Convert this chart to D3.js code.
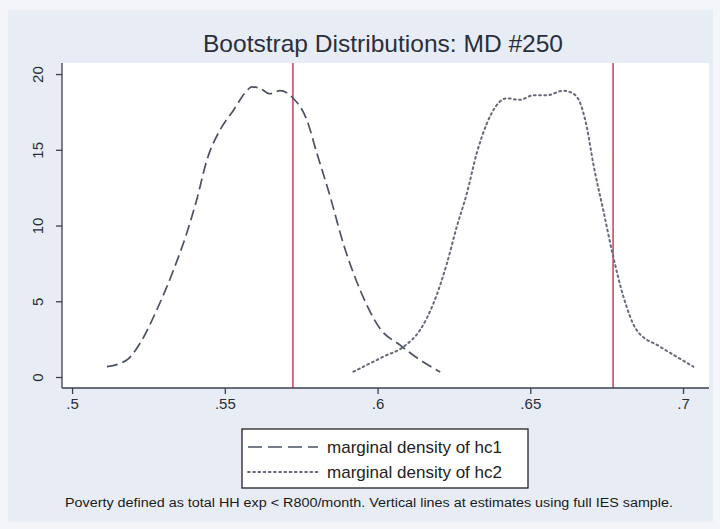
<!DOCTYPE html>
<html><head><meta charset="utf-8">
<script src="https://cdn.jsdelivr.net/npm/d3@7"></script>
<style>
html,body{margin:0;padding:0;background:#f3f5f8;}
svg{display:block;font-family:"Liberation Sans",Arial,sans-serif;}
</style></head>
<body>
<svg id="c" width="720" height="529"></svg>
<script>
const title = "Bootstrap Distributions: MD #250";
const note = "Poverty defined as total HH exp < R800/month. Vertical lines at estimates using full IES sample.";
const seriesNames = ["marginal density of hc1", "marginal density of hc2"];
const xTicks = [0.5, 0.55, 0.6, 0.65, 0.7];
const xTickLabels = [".5", ".55", ".6", ".65", ".7"];
const yTicks = [0, 5, 10, 15, 20];
const estimates = [0.5723, 0.6771];
const hc1X = [0.5114,0.5179,0.5223,0.5277,0.5332,0.5375,0.5408,0.5441,0.5484,0.5528,0.5572,0.5588,0.5615,0.5648,0.5681,0.5724,0.5768,0.5801,0.5845,0.5888,0.5943,0.6008,0.6074,0.6116,0.6205];
const hc1Y = [0.68,1.12,2.24,4.42,7.06,9.48,11.7,14.3,16.3,17.6,18.9,19.16,19.05,18.7,18.9,18.4,17.0,14.8,11.9,8.8,5.74,3.2,2.1,1.45,0.33];
const hc2X = [0.5921,0.6019,0.6085,0.6139,0.6183,0.6227,0.6259,0.6292,0.6325,0.6357,0.6390,0.6423,0.6466,0.6510,0.6554,0.6608,0.6641,0.6663,0.6685,0.6706,0.6739,0.6772,0.6805,0.6848,0.6925,0.6979,0.7034];
const hc2Y = [0.35,1.34,2.0,3.1,4.86,7.5,9.9,12.1,14.8,16.7,17.95,18.4,18.3,18.6,18.6,18.9,18.7,18.1,16.5,14.1,11.0,7.9,5.3,3.1,2.0,1.34,0.68];

const svg = d3.select("#c");
svg.append("rect").attr("x",8).attr("y",10).attr("width",705).attr("height",512).attr("fill","#e8edf5");

const L = 62, R = 709, T = 63, B = 388;
const x = d3.scaleLinear().domain([0.4967, 0.7085]).range([L, R]);
const y = d3.scaleLinear().domain([-0.726, 20.73]).range([B, T]);

svg.append("rect").attr("x",L).attr("y",T).attr("width",R-L).attr("height",B-T).attr("fill","#ffffff");

svg.selectAll("line.est").data(estimates).enter().append("line")
  .attr("x1",d=>x(d)).attr("x2",d=>x(d)).attr("y1",T).attr("y2",B)
  .attr("stroke","#c8304e").attr("stroke-width",1.4);

const line = d3.line().x(d=>x(d[0])).y(d=>y(d[1])).curve(d3.curveMonotoneX);
const d1 = hc1X.map((v,i)=>[v,hc1Y[i]]);
const d2 = hc2X.map((v,i)=>[v,hc2Y[i]]);
svg.append("path").attr("d",line(d1)).attr("fill","none").attr("stroke","#4b5263")
  .attr("stroke-width",1.7).attr("stroke-dasharray","11,5");
svg.append("path").attr("d",line(d2)).attr("fill","none").attr("stroke","#666a78")
  .attr("stroke-width",2).attr("stroke-dasharray","1.8,3.4").attr("stroke-linecap","round");

const gx = svg.append("g").attr("transform",`translate(0,${B})`)
  .call(d3.axisBottom(x).tickValues(xTicks).tickFormat((d,i)=>xTickLabels[i]).tickSize(6).tickPadding(4));
gx.select(".domain").attr("d",`M${L},0H${R}`);
const gy = svg.append("g").attr("transform",`translate(${L},0)`)
  .call(d3.axisLeft(y).tickValues(yTicks).tickSize(6).tickPadding(0));
gy.select(".domain").attr("d",`M0,${T}V${B}`);
[gx,gy].forEach(g=>{
  g.selectAll(".domain").attr("stroke","#3a3f4a").attr("stroke-width",1.3);
  g.selectAll(".tick line").attr("stroke","#3a3f4a").attr("stroke-width",1.3);
  g.selectAll("text").attr("fill","#2a2d35").style("font-size","15px").style("font-family","'Liberation Sans',Arial,sans-serif");
});
gy.selectAll(".tick text").attr("text-anchor","middle").attr("dy",null)
  .attr("transform","translate(-25,0) rotate(-90)").attr("x",0).attr("y",0).attr("dominant-baseline","central");

svg.append("text").attr("x",383).attr("y",52).attr("text-anchor","middle")
  .attr("fill","#2a2f3d").style("font-size","24px")
  .attr("textLength",360).attr("lengthAdjust","spacingAndGlyphs").text(title);

const lg = svg.append("g");
lg.append("rect").attr("x",242).attr("y",429).attr("width",286).attr("height",59)
  .attr("fill","#ffffff").attr("stroke","#222").attr("stroke-width",1.3);
const rows = [447, 472];
lg.append("line").attr("x1",248).attr("x2",318).attr("y1",rows[0]).attr("y2",rows[0])
  .attr("stroke","#4b5263").attr("stroke-width",1.6).attr("stroke-dasharray","14,6");
lg.append("line").attr("x1",248).attr("x2",318).attr("y1",rows[1]).attr("y2",rows[1])
  .attr("stroke","#666a78").attr("stroke-width",1.8).attr("stroke-dasharray","1.8,3.4").attr("stroke-linecap","round");
seriesNames.forEach((n,i)=>{
  lg.append("text").attr("x",327).attr("y",rows[i]).attr("dominant-baseline","central")
    .attr("fill","#222").style("font-size","17px")
    .attr("textLength",175).attr("lengthAdjust","spacingAndGlyphs").text(n);
});

svg.append("text").attr("x",65).attr("y",503).attr("dominant-baseline","central")
  .attr("fill","#1a1a1a").style("font-size","12px")
  .attr("textLength",608).attr("lengthAdjust","spacingAndGlyphs").text(note);
</script>
</body></html>
